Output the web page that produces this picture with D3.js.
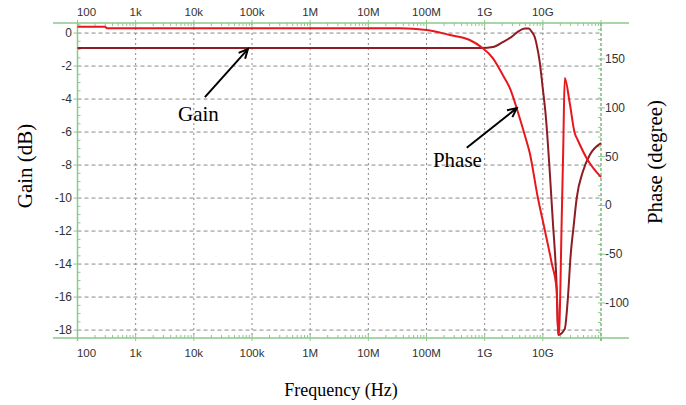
<!DOCTYPE html>
<html>
<head>
<meta charset="utf-8">
<script src="https://cdn.jsdelivr.net/npm/d3@7"></script>
<style>
  html, body { margin: 0; padding: 0; background: #fff; }
  svg { display: block; }
</style>
</head>
<body>
<svg id="chart" width="686" height="405"></svg>
<script>
// ---------- data ----------
const freqTicks = [1e2, 1e3, 1e4, 1e5, 1e6, 1e7, 1e8, 1e9, 1e10];
const freqLabels = ["100", "1k", "10k", "100k", "1M", "10M", "100M", "1G", "10G"];
const gainTicks = [0, -2, -4, -6, -8, -10, -12, -14, -16, -18];
const phaseTicks = [150, 100, 50, 0, -50, -100];
const freqDomain = [1e2, 1e11];
const gainDomain = [-18.48, 0.61];
const phaseDomain = [-135.9, 186.9];

const gainFreq = [1e2, 8.9e8, 1.38e9, 2.05e9, 3.04e9, 3.86e9, 4.89e9, 5.73e9, 6.44e9, 7.26e9,
  7.86e9, 8.85e9, 9.96e9, 1.12e10, 1.31e10, 1.48e10, 1.73e10, 1.84e10, 2.38e10, 2.68e10,
  3.01e10, 3.4e10, 3.82e10, 4.85e10, 6.4e10, 1e11];
const gainDb = [-0.91, -0.91, -0.85, -0.55, -0.18, 0.12, 0.27, 0.27, 0.08, -0.24,
  -0.73, -1.76, -3.33, -4.97, -8.30, -11.33, -15.39, -18.3, -17.94, -16.18,
  -13.45, -11.64, -10.0, -8.42, -7.39, -6.67];

const phaseFreq = [1e2, 297, 321, 3.48e7, 1.01e8, 2.51e8, 5.54e8, 8.95e8, 1.38e9, 2.05e9,
  2.7e9, 3.29e9, 3.86e9, 4.89e9, 5.96e9, 8.17e9, 1.08e10, 1.42e10, 1.73e10, 1.84e10,
  1.91e10, 2.11e10, 2.24e10, 2.38e10, 2.9e10, 3.53e10, 3.98e10, 5.9e10, 1e11];
const phaseDeg = [183.1, 183.1, 181.5, 181.5, 179.7, 174.6, 169.5, 161.8, 151.0, 133.6,
  120.3, 105.9, 92.6, 72.1, 53.7, 8.6, -25.2, -59.0, -86.7, -132.8,
  -127.5, -15.0, 56.7, 130.5, 104.9, 74.2, 67.0, 46.5, 29];

// annotations: label, text anchor (freq, gain dB), arrow tail, arrow tip
const annLabels = ["Gain", "Phase"];
const annTextFreq = [1.2e4, 3.4e8];
const annTextGain = [-5.3, -8.1];
const annTailFreq = [1.55e4, 4.92e8];
const annTailGain = [-3.88, -6.95];
const annTipFreq = [8.5e4, 3.56e9];
const annTipGain = [-0.97, -4.55];

// ---------- layout ----------
const svg = d3.select("#chart");
const L = 77.5, R = 601, T = 23, B = 338;
const x = d3.scaleLog().domain(freqDomain).range([L, R]);
const yG = d3.scaleLinear().domain(gainDomain).range([B, T]);
const yP = d3.scaleLinear().domain(phaseDomain).range([B, T]);

const green = "#8dc98d";
const gridCol = "#8a8a8a";
const tickFont = "Liberation Sans, Arial, sans-serif";
const serif = "Liberation Serif, Times New Roman, serif";

// grid
svg.append("g").selectAll("line").data(gainTicks).join("line")
  .attr("x1", L).attr("x2", R)
  .attr("y1", d => yG(d)).attr("y2", d => yG(d))
  .attr("stroke", gridCol).attr("stroke-width", 1)
  .attr("stroke-dasharray", "4,3");
svg.append("g").selectAll("line").data(freqTicks.slice(1)).join("line")
  .attr("x1", d => x(d)).attr("x2", d => x(d))
  .attr("y1", T).attr("y2", B)
  .attr("stroke", gridCol).attr("stroke-width", 1)
  .attr("stroke-dasharray", "2,3");

// minor log ticks on top/bottom axes
const minor = [];
for (let e = 2; e < 11; e++) for (let m = 2; m <= 9; m++) minor.push(m * Math.pow(10, e));
svg.append("g").selectAll("line").data(minor).join("line")
  .attr("x1", d => x(d)).attr("x2", d => x(d))
  .attr("y1", B - 3).attr("y2", B)
  .attr("stroke", green).attr("stroke-width", 1);
svg.append("g").selectAll("line").data(minor).join("line")
  .attr("x1", d => x(d)).attr("x2", d => x(d))
  .attr("y1", T).attr("y2", T + 3)
  .attr("stroke", green).attr("stroke-width", 1);
svg.append("g").selectAll("line").data(freqTicks.concat([1e11])).join("line")
  .attr("x1", d => x(d)).attr("x2", d => x(d))
  .attr("y1", B - 5).attr("y2", B + 3)
  .attr("stroke", green).attr("stroke-width", 1);
svg.append("g").selectAll("line").data(freqTicks.concat([1e11])).join("line")
  .attr("x1", d => x(d)).attr("x2", d => x(d))
  .attr("y1", T - 3).attr("y2", T + 5)
  .attr("stroke", green).attr("stroke-width", 1);

// minor ticks left (every 0.5 dB) and right (every 10 deg)
const gMinor = d3.range(-18, 0.51, 0.5);
svg.append("g").selectAll("line").data(gMinor).join("line")
  .attr("x1", L).attr("x2", d => L + (d % 2 === 0 ? 0 : 3))
  .attr("y1", d => yG(d)).attr("y2", d => yG(d))
  .attr("stroke", green).attr("stroke-width", 1);
svg.append("g").selectAll("line").data(gainTicks).join("line")
  .attr("x1", L - 4).attr("x2", L)
  .attr("y1", d => yG(d)).attr("y2", d => yG(d))
  .attr("stroke", green).attr("stroke-width", 1);
const pMinor = d3.range(-130, 181, 10);
svg.append("g").selectAll("line").data(pMinor).join("line")
  .attr("x1", R - 3).attr("x2", R)
  .attr("y1", d => yP(d)).attr("y2", d => yP(d))
  .attr("stroke", green).attr("stroke-width", 1);
svg.append("g").selectAll("line").data(phaseTicks).join("line")
  .attr("x1", R).attr("x2", R + 4)
  .attr("y1", d => yP(d)).attr("y2", d => yP(d))
  .attr("stroke", green).attr("stroke-width", 1);

// axis frame
svg.append("line").attr("x1", 53).attr("x2", 629).attr("y1", T).attr("y2", T)
  .attr("stroke", green).attr("stroke-width", 1.5);
svg.append("line").attr("x1", 53).attr("x2", 629).attr("y1", B).attr("y2", B)
  .attr("stroke", green).attr("stroke-width", 1.5);
svg.append("line").attr("x1", L).attr("x2", L).attr("y1", T).attr("y2", B + 3)
  .attr("stroke", green).attr("stroke-width", 1.5);
svg.append("line").attr("x1", R).attr("x2", R).attr("y1", T).attr("y2", B + 3)
  .attr("stroke", "#7fb87f").attr("stroke-width", 1.5).attr("stroke-dasharray", "3,2");

// tick labels
const topLab = svg.append("g").attr("font-family", tickFont).attr("font-size", 11.5)
  .attr("fill", "#333").attr("text-anchor", "middle");
topLab.selectAll("text.t").data(freqTicks).join("text").attr("class", "t")
  .attr("x", (d, i) => x(d) + (i === 0 ? 9 : 0)).attr("y", 16)
  .text((d, i) => freqLabels[i]);
topLab.selectAll("text.b").data(freqTicks).join("text").attr("class", "b")
  .attr("x", (d, i) => x(d) + (i === 0 ? 9 : 0)).attr("y", 357)
  .text((d, i) => freqLabels[i]);

svg.append("g").attr("font-family", tickFont).attr("font-size", 12)
  .attr("fill", "#333").attr("text-anchor", "end")
  .selectAll("text").data(gainTicks).join("text")
  .attr("x", 72).attr("y", d => yG(d) + 4)
  .text(d => d === 0 ? "0" : "-" + Math.abs(d));
svg.append("g").attr("font-family", tickFont).attr("font-size", 12)
  .attr("fill", "#333").attr("text-anchor", "start")
  .selectAll("text").data(phaseTicks).join("text")
  .attr("x", 605).attr("y", d => yP(d) + 4)
  .text(d => d < 0 ? "-" + Math.abs(d) : String(d));

// axis titles
svg.append("text").attr("transform", "translate(32,166) rotate(-90)")
  .attr("text-anchor", "middle").attr("font-family", serif).attr("font-size", 21)
  .attr("fill", "#000").text("Gain (dB)");
svg.append("text").attr("transform", "translate(662,162) rotate(-90)")
  .attr("text-anchor", "middle").attr("font-family", serif).attr("font-size", 21)
  .attr("fill", "#000").text("Phase (degree)");
svg.append("text").attr("x", 341).attr("y", 396)
  .attr("text-anchor", "middle").attr("font-family", serif).attr("font-size", 18)
  .attr("fill", "#000").text("Frequency (Hz)");

// curves
const gainData = gainFreq.map((f, i) => [f, gainDb[i]]);
const phaseData = phaseFreq.map((f, i) => [f, phaseDeg[i]]);
svg.append("path").datum(gainData)
  .attr("d", d3.line().x(d => x(d[0])).y(d => yG(d[1])).curve(d3.curveMonotoneX))
  .attr("fill", "none").attr("stroke", "#8e1c22").attr("stroke-width", 2)
  .attr("stroke-linejoin", "round");
svg.append("path").datum(phaseData)
  .attr("d", d3.line().x(d => x(d[0])).y(d => yP(d[1])).curve(d3.curveMonotoneX))
  .attr("fill", "none").attr("stroke", "#e8171d").attr("stroke-width", 2)
  .attr("stroke-linejoin", "round");

// annotations
const ann = svg.append("g");
annLabels.forEach((lab, i) => {
  ann.append("text").attr("x", x(annTextFreq[i])).attr("y", yG(annTextGain[i]))
    .attr("text-anchor", "middle").attr("font-family", serif).attr("font-size", 21)
    .attr("fill", "#000").text(lab);
  const x1 = x(annTailFreq[i]), y1 = yG(annTailGain[i]);
  const x2 = x(annTipFreq[i]), y2 = yG(annTipGain[i]);
  const ang = Math.atan2(y2 - y1, x2 - x1);
  const hl = 10, ha = 0.45;
  ann.append("line").attr("x1", x1).attr("y1", y1).attr("x2", x2).attr("y2", y2)
    .attr("stroke", "#000").attr("stroke-width", 2);
  ann.append("path")
    .attr("d", `M${x2 - hl * Math.cos(ang - ha)},${y2 - hl * Math.sin(ang - ha)}L${x2},${y2}L${x2 - hl * Math.cos(ang + ha)},${y2 - hl * Math.sin(ang + ha)}`)
    .attr("fill", "none").attr("stroke", "#000").attr("stroke-width", 2)
    .attr("stroke-linejoin", "miter");
});
</script>
</body>
</html>
